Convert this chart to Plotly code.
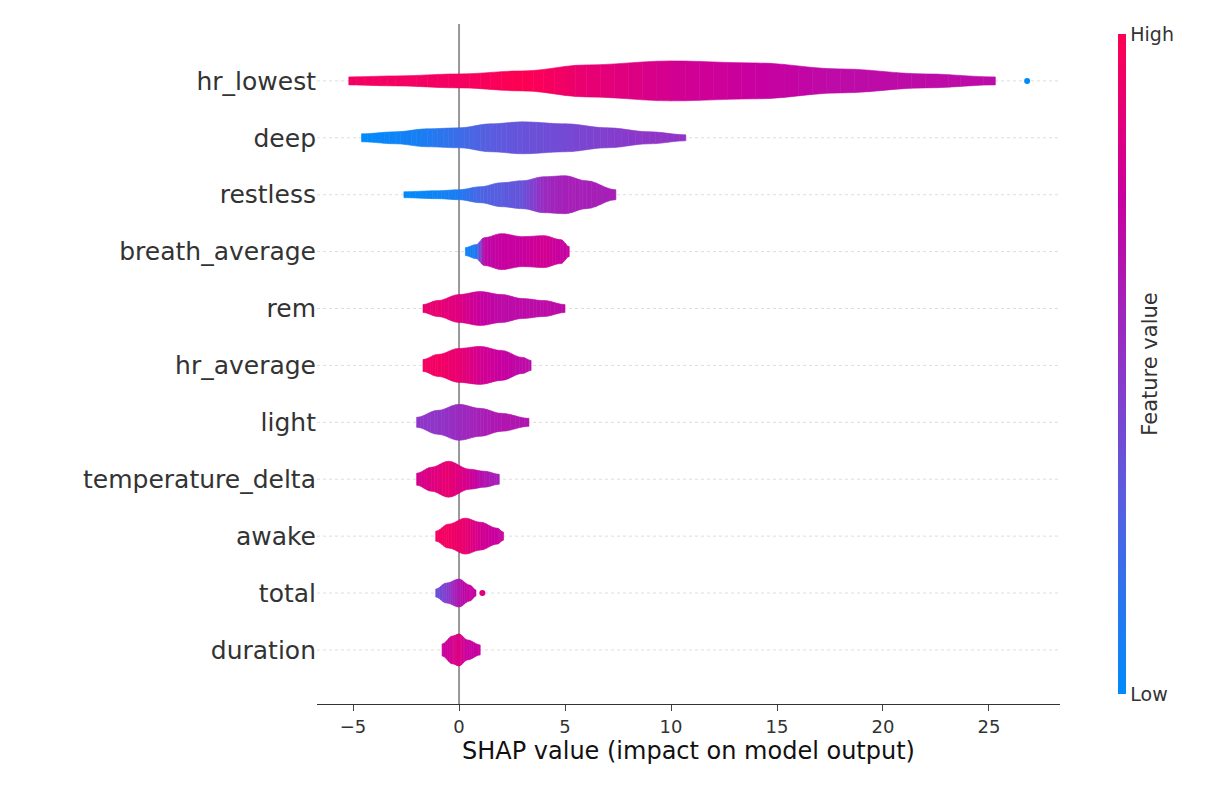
import numpy as np
import plotly.graph_objects as go
from plotly.colors import sample_colorscale

# Features, top to bottom
FEATURES = ["hr_lowest", "deep", "restless", "breath_average", "rem",
            "hr_average", "light", "temperature_delta", "awake", "total", "duration"]

# Violin profiles: SHAP x samples, half-width (px), feature-value colour (0=low, 1=high)
SHAP_X = {
    "hr_lowest": [-5.2, -3, 0, 3, 6, 10, 14, 18, 22, 25.3],
    "deep": [-4.6, -3, -1.5, 0, 1.5, 3, 5, 7, 9, 10.7],
    "restless": [-2.6, -1, 0, 1, 2, 3, 4, 5, 6, 7.4],
    "breath_average": [0.3, 0.8, 1.2, 2, 3, 4, 4.8, 5.2],
    "rem": [-1.7, -1, 0, 1, 2, 3, 4, 5],
    "hr_average": [-1.7, -1, 0, 1, 2, 3, 3.4],
    "light": [-2, -1, 0, 1, 2, 3.3],
    "temperature_delta": [-2, -1.3, -0.5, 0.5, 1.2, 1.9],
    "awake": [-1.1, -0.5, 0.3, 1, 1.8, 2.1],
    "total": [-1.1, -0.6, 0, 0.5, 0.8],
    "duration": [-0.8, -0.3, 0, 0.4, 1.0],
}
HALF_W = {
    "hr_lowest": [4, 5, 7, 10, 16, 20, 18, 12, 7, 4],
    "deep": [4, 6, 9, 10, 14, 16, 14, 10, 6, 3],
    "restless": [3, 4, 5, 8, 12, 14, 18, 19, 14, 5],
    "breath_average": [4, 7, 14, 18, 15, 16, 12, 5],
    "rem": [4, 8, 14, 17, 14, 10, 8, 4],
    "hr_average": [6, 11, 17, 19, 15, 8, 5],
    "light": [5, 12, 18, 14, 9, 4],
    "temperature_delta": [6, 12, 18, 10, 8, 5],
    "awake": [5, 12, 18, 14, 8, 4],
    "total": [4, 10, 14, 8, 3],
    "duration": [6, 14, 16, 10, 5],
}
FEAT_VAL = {
    "hr_lowest": [0.95, 0.95, 0.95, 1.0, 0.9, 0.8, 0.75, 0.7, 0.7, 0.7],
    "deep": [0.0, 0.05, 0.1, 0.2, 0.3, 0.35, 0.4, 0.45, 0.5, 0.5],
    "restless": [0.0, 0.05, 0.1, 0.25, 0.3, 0.35, 0.55, 0.6, 0.6, 0.6],
    "breath_average": [0.05, 0.1, 0.7, 0.75, 0.75, 0.8, 0.75, 0.75],
    "rem": [0.9, 0.9, 0.85, 0.75, 0.7, 0.7, 0.7, 0.7],
    "hr_average": [0.95, 0.95, 0.9, 0.8, 0.75, 0.7, 0.7],
    "light": [0.5, 0.5, 0.55, 0.6, 0.65, 0.65],
    "temperature_delta": [0.8, 0.85, 0.9, 0.8, 0.65, 0.6],
    "awake": [0.95, 0.95, 0.9, 0.8, 0.75, 0.75],
    "total": [0.35, 0.45, 0.65, 0.75, 0.75],
    "duration": [0.75, 0.8, 0.85, 0.75, 0.75],
}
# Outlier dots: (feature, shap value, feature value)
OUTLIERS = [("hr_lowest", 26.8, 0.0), ("total", 1.1, 0.85)]

COLORSCALE = [[0, "#008bfb"], [0.3, "#5a5ddf"], [0.5, "#8f35c8"],
              [0.75, "#c800a0"], [1, "#ff0052"]]
ROW_PX = 57.0
N = len(FEATURES)


def row_y(name):
    return N - 1 - FEATURES.index(name)


fig = go.Figure()

# dotted row guides
for f in FEATURES:
    fig.add_shape(type="line", xref="paper", x0=0, x1=1, y0=row_y(f), y1=row_y(f),
                  line=dict(color="#dddddd", width=1, dash="dot"), layer="below")

fig.add_shape(type="line", xref="x", yref="paper", x0=0, x1=0, y0=0, y1=1,
              line=dict(color="#999999", width=2), layer="below")

STEPS = 6
for f in FEATURES:
    y0 = row_y(f)
    xs, hw, cv = SHAP_X[f], HALF_W[f], FEAT_VAL[f]
    for i in range(len(xs) - 1):
        for s in range(STEPS):
            t0, t1 = s / STEPS, (s + 1) / STEPS
            xa = xs[i] + (xs[i + 1] - xs[i]) * t0
            xb = xs[i] + (xs[i + 1] - xs[i]) * t1
            ha = (hw[i] + (hw[i + 1] - hw[i]) * (0.5 - 0.5 * np.cos(np.pi * t0))) / ROW_PX
            hb = (hw[i] + (hw[i + 1] - hw[i]) * (0.5 - 0.5 * np.cos(np.pi * t1))) / ROW_PX
            c = cv[i] + (cv[i + 1] - cv[i]) * (t0 + t1) / 2
            col = sample_colorscale(COLORSCALE, [c])[0]
            fig.add_trace(go.Scatter(
                x=[xa, xb, xb, xa, xa], y=[y0 + ha, y0 + hb, y0 - hb, y0 - ha, y0 + ha],
                fill="toself", fillcolor=col, mode="lines",
                line=dict(color=col, width=0.6), hoverinfo="skip", showlegend=False))

fig.add_trace(go.Scatter(
    x=[o[1] for o in OUTLIERS], y=[row_y(o[0]) for o in OUTLIERS], mode="markers",
    marker=dict(size=6, color=[o[2] for o in OUTLIERS], colorscale=COLORSCALE,
                cmin=0, cmax=1, showscale=True,
                colorbar=dict(x=1.065, xanchor="left", thickness=8, len=1.0, y=0.5,
                              outlinewidth=0, tickvals=[0, 1], ticktext=["Low", "High"],
                              ticks="", tickfont=dict(size=19, color="#333"),
                              title=dict(text="Feature value", side="right",
                                         font=dict(size=21, color="#333")))),
    showlegend=False, hoverinfo="skip"))

fig.update_layout(
    width=1216, height=792,
    plot_bgcolor="white", paper_bgcolor="white",
    margin=dict(l=309, r=164, t=16, b=96),
    font=dict(family="DejaVu Sans", color="#333"),
    xaxis=dict(range=[-6.7, 28.35], tickvals=[-5, 0, 5, 10, 15, 20, 25],
               ticktext=["\u22125", "0", "5", "10", "15", "20", "25"],
               showgrid=False, zeroline=False, showline=True, linecolor="#333",
               ticks="outside", ticklen=6, tickfont=dict(size=18),
               title=dict(text="SHAP value (impact on model output)",
                          font=dict(size=24, color="#111"), standoff=6)),
    yaxis=dict(range=[-0.95, N], tickvals=[row_y(f) for f in FEATURES], ticktext=FEATURES,
               showgrid=False, zeroline=False, showline=False, ticks="",
               tickfont=dict(size=25, color="#333")),
)

fig.write_html("out.html")
